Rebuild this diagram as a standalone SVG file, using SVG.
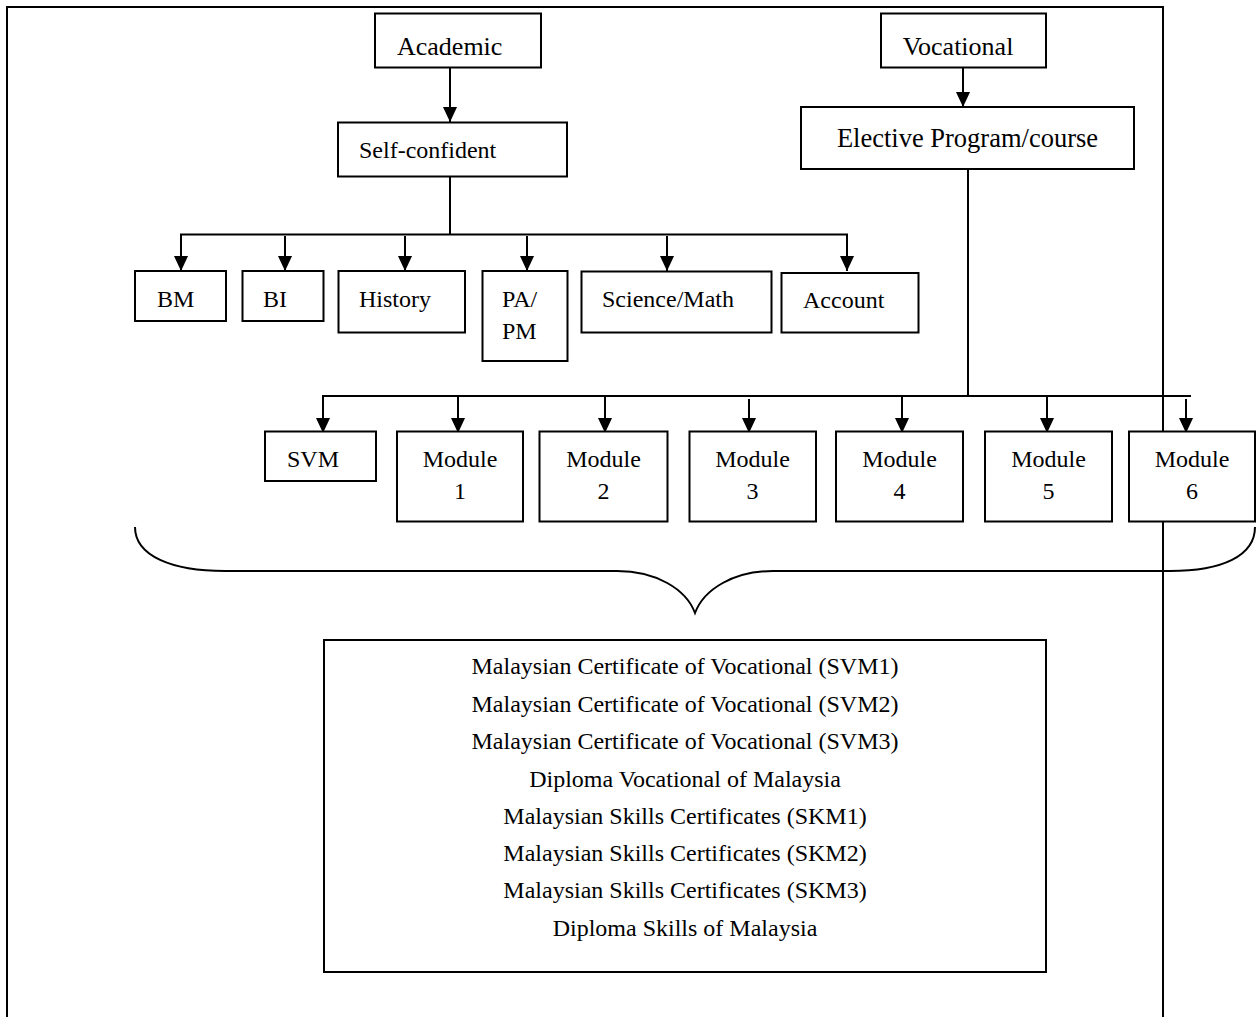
<svg xmlns="http://www.w3.org/2000/svg" width="1258" height="1017" viewBox="0 0 1258 1017">
<style>
.box{fill:#fff;stroke:#000;stroke-width:2}
.ln{fill:none;stroke:#000;stroke-width:2}
.t{font-family:"Liberation Serif","Times New Roman",serif;font-size:24px;fill:#000}
.tl{font-family:"Liberation Serif","Times New Roman",serif;font-size:26px;fill:#000}
.c{text-anchor:middle}
</style>
<defs>
<marker id="ah" viewBox="0 0 16 16" refX="16" refY="8" markerWidth="16" markerHeight="15" markerUnits="userSpaceOnUse" orient="auto">
<path d="M0,0.5 L16,8 L0,15.5 Z" fill="#000"/>
</marker>
</defs>
<rect width="1258" height="1017" fill="#fff"/>
<path id="frame" class="ln" d="M7,1017 V7 H1163 V1017"/>
<g id="connectors">
<line class="ln" x1="450" y1="67" x2="450" y2="122" marker-end="url(#ah)"/>
<line class="ln" x1="963" y1="68" x2="963" y2="107" marker-end="url(#ah)"/>
<line class="ln" x1="450" y1="169" x2="450" y2="235"/>
<polyline class="ln" points="181,271 181,234.5 847,234.5 847,235" style="marker:none"/>
<line class="ln" x1="181" y1="236" x2="181" y2="271" marker-end="url(#ah)"/>
<line class="ln" x1="285" y1="236" x2="285" y2="271" marker-end="url(#ah)"/>
<line class="ln" x1="405" y1="236" x2="405" y2="271" marker-end="url(#ah)"/>
<line class="ln" x1="527" y1="236" x2="527" y2="271" marker-end="url(#ah)"/>
<line class="ln" x1="667" y1="236" x2="667" y2="271" marker-end="url(#ah)"/>
<line class="ln" x1="847" y1="234" x2="847" y2="271" marker-end="url(#ah)"/>
<line class="ln" x1="968" y1="169" x2="968" y2="397"/>
<line class="ln" x1="322" y1="396" x2="1191" y2="396"/>
<line class="ln" x1="323" y1="397" x2="323" y2="433" marker-end="url(#ah)"/>
<line class="ln" x1="458" y1="397" x2="458" y2="433" marker-end="url(#ah)"/>
<line class="ln" x1="605" y1="397" x2="605" y2="433" marker-end="url(#ah)"/>
<line class="ln" x1="749" y1="399" x2="749" y2="433" marker-end="url(#ah)"/>
<line class="ln" x1="902" y1="397" x2="902" y2="433" marker-end="url(#ah)"/>
<line class="ln" x1="1047" y1="397" x2="1047" y2="433" marker-end="url(#ah)"/>
<line class="ln" x1="1186" y1="399" x2="1186" y2="433" marker-end="url(#ah)"/>
</g>
<g id="academic"><rect class="box" x="375" y="13.5" width="166" height="54"/><text class="tl" x="397" y="55">Academic</text></g>
<g id="vocational"><rect class="box" x="881" y="13.5" width="165" height="54"/><text class="tl" x="958" y="55" text-anchor="middle">Vocational</text></g>
<g id="self-confident"><rect class="box" x="338" y="122.5" width="229" height="54"/><text class="t" x="359" y="158">Self-confident</text></g>
<g id="elective"><rect class="box" x="801" y="107" width="333" height="62"/><text class="tl c" x="967.5" y="147" style="font-size:26.5px">Elective Program/course</text></g>
<g id="bm"><rect class="box" x="135" y="271" width="91" height="50"/><text class="t" x="157" y="306.5">BM</text></g>
<g id="bi"><rect class="box" x="242.5" y="271" width="81" height="50"/><text class="t" x="263" y="306.5">BI</text></g>
<g id="history"><rect class="box" x="338.5" y="271" width="126.5" height="61.5"/><text class="t" x="359" y="306.5">History</text></g>
<g id="pa-pm"><rect class="box" x="482.5" y="271" width="85" height="90"/><text class="t" x="502" y="306.5">PA/</text><text class="t" x="502" y="338.5">PM</text></g>
<g id="science-math"><rect class="box" x="581.5" y="271.5" width="190" height="61"/><text class="t" x="602" y="306.5">Science/Math</text></g>
<g id="account"><rect class="box" x="781.5" y="273" width="137" height="59.5"/><text class="t" x="803" y="308">Account</text></g>
<g id="svm"><rect class="box" x="265" y="431.5" width="111" height="49.5"/><text class="t" x="287" y="466.5">SVM</text></g>
<g id="module1"><rect class="box" x="397" y="431.5" width="126" height="90"/><text class="t c" x="460" y="466.5">Module</text><text class="t c" x="460" y="498.5">1</text></g>
<g id="module2"><rect class="box" x="539.5" y="431.5" width="128" height="90"/><text class="t c" x="603.5" y="466.5">Module</text><text class="t c" x="603.5" y="498.5">2</text></g>
<g id="module3"><rect class="box" x="689.5" y="431.5" width="126.5" height="90"/><text class="t c" x="752.5" y="466.5">Module</text><text class="t c" x="752.5" y="498.5">3</text></g>
<g id="module4"><rect class="box" x="836" y="431.5" width="127" height="90"/><text class="t c" x="899.5" y="466.5">Module</text><text class="t c" x="899.5" y="498.5">4</text></g>
<g id="module5"><rect class="box" x="985" y="431.5" width="127" height="90"/><text class="t c" x="1048.5" y="466.5">Module</text><text class="t c" x="1048.5" y="498.5">5</text></g>
<g id="module6"><rect class="box" x="1129" y="431.5" width="126" height="90"/><text class="t c" x="1192" y="466.5">Module</text><text class="t c" x="1192" y="498.5">6</text></g>
<path id="brace" class="ln" d="M135,527 C135,556 172,571 225,571 H617 C656,571 686,589 695,613 C704,589 734,571 773,571 H1170 C1222,571 1255,556 1255,527"/>
<g id="certificates">
<rect class="box" x="324" y="640" width="722" height="332"/>
<text class="t c" x="685" y="674">Malaysian Certificate of Vocational (SVM1)</text>
<text class="t c" x="685" y="712">Malaysian Certificate of Vocational (SVM2)</text>
<text class="t c" x="685" y="749">Malaysian Certificate of Vocational (SVM3)</text>
<text class="t c" x="685" y="787">Diploma Vocational of Malaysia</text>
<text class="t c" x="685" y="824">Malaysian Skills Certificates (SKM1)</text>
<text class="t c" x="685" y="861">Malaysian Skills Certificates (SKM2)</text>
<text class="t c" x="685" y="898">Malaysian Skills Certificates (SKM3)</text>
<text class="t c" x="685" y="936">Diploma Skills of Malaysia</text>
</g>
</svg>
